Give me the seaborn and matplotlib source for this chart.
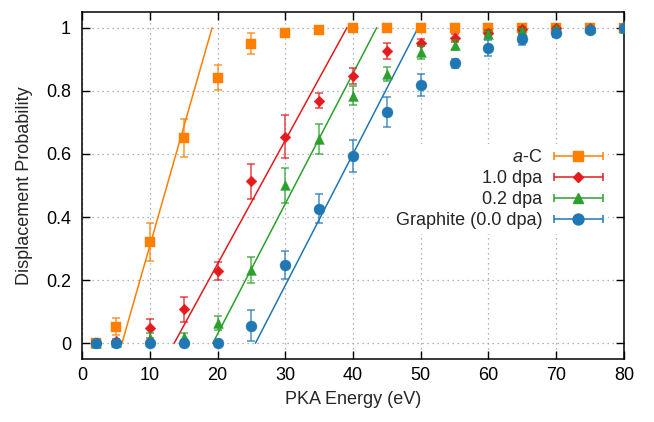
import numpy as np
import pandas as pd
import matplotlib
matplotlib.use("Agg")
import matplotlib.pyplot as plt
import seaborn as sns
from matplotlib.legend_handler import HandlerErrorbar
from matplotlib.container import ErrorbarContainer

# PKA energies (eV) at which displacement probability was sampled
energy = [2, 5, 10, 15, 20, 25, 30, 35, 40, 45, 50, 55, 60, 65, 70, 75, 80]

ac_prob = [0.0, 0.053, 0.321, 0.650, 0.842, 0.950, 0.982, 0.994, 1.0, 1.0,
           1.0, 1.0, 1.0, 1.0, 1.0, 1.0, 1.0]
ac_err = [0.004, 0.026, 0.060, 0.060, 0.039, 0.034, 0.010, 0.005, 0.0, 0.0,
          0.0, 0.0, 0.0, 0.0, 0.0, 0.0, 0.0]

dpa10_prob = [0.0, 0.006, 0.047, 0.107, 0.229, 0.513, 0.655, 0.769, 0.846,
              0.926, 0.953, 0.967, 0.984, 0.996, 1.0, 1.0, 1.0]
dpa10_err = [0.0, 0.006, 0.030, 0.040, 0.028, 0.055, 0.068, 0.024, 0.025,
             0.026, 0.012, 0.012, 0.008, 0.005, 0.003, 0.0, 0.0]

dpa02_prob = [0.0, 0.003, 0.016, 0.021, 0.063, 0.232, 0.500, 0.648, 0.785,
              0.854, 0.922, 0.946, 0.980, 0.990, 0.995, 1.0, 1.0]
dpa02_err = [0.0, 0.003, 0.015, 0.010, 0.022, 0.040, 0.055, 0.048, 0.030,
             0.022, 0.020, 0.015, 0.010, 0.007, 0.005, 0.0, 0.0]

graphite_prob = [0.0, 0.0, 0.0, 0.0, 0.0, 0.055, 0.248, 0.427, 0.593, 0.733,
                 0.819, 0.887, 0.936, 0.963, 0.982, 0.994, 1.0]
graphite_err = [0.0, 0.0, 0.0, 0.0, 0.0, 0.049, 0.045, 0.045, 0.050, 0.047,
                0.035, 0.015, 0.026, 0.017, 0.010, 0.005, 0.0]

# linear threshold fits: energy where probability is 0 and where it reaches 1
ac_fit = [5.9, 19.2]
dpa10_fit = [13.6, 39.1]
dpa02_fit = [19.3, 43.5]
graphite_fit = [25.6, 49.6]

series_labels = ["$\\it{a}$-C", "1.0 dpa", "0.2 dpa", "Graphite (0.0 dpa)"]

series = [
    (series_labels[0], ac_prob, ac_err, ac_fit, "#ff7f00", "s", 52),
    (series_labels[1], dpa10_prob, dpa10_err, dpa10_fit, "#e41a1c", "D", 30),
    (series_labels[2], dpa02_prob, dpa02_err, dpa02_fit, "#2ca02c", "^", 50),
    (series_labels[3], graphite_prob, graphite_err, graphite_fit, "#1f77b4", "o", 62),
]

sns.set_theme(style="white")
plt.rcParams["font.family"] = ["Liberation Sans", "DejaVu Sans"]
plt.rcParams["mathtext.fontset"] = "custom"
plt.rcParams["mathtext.it"] = "Liberation Sans:italic"
plt.rcParams["mathtext.rm"] = "Liberation Sans"

fig = plt.figure(figsize=(6.54, 4.22), dpi=100)
ax = fig.add_axes([0.1254, 0.1493, 0.8287, 0.8223])

handles = []
for i, (label, prob, err, fit, color, marker, size) in enumerate(series):
    df = pd.DataFrame({"energy": energy, "prob": prob, "err": err})
    fit_df = pd.DataFrame({"energy": fit, "prob": [0.0, 1.0]})
    sns.lineplot(data=fit_df, x="energy", y="prob", color=color, lw=1.1,
                 ax=ax, zorder=2 + i * 0.1, legend=False)
    ax.errorbar(df["energy"], df["prob"], yerr=df["err"], fmt="none",
                ecolor=color, elinewidth=1.1, capsize=3.2, capthick=1.1,
                alpha=0.8, zorder=3 + i * 0.1)
    sns.scatterplot(data=df, x="energy", y="prob", marker=marker, s=size,
                    color=color, edgecolor=color, linewidth=0.3, ax=ax,
                    zorder=3.05 + i * 0.1, legend=False)
    # key entry: horizontal bar with end caps and the series marker
    proxy = ax.errorbar([np.nan], [np.nan], xerr=[1.0], fmt=marker,
                        color=color, ecolor=color, elinewidth=1.1,
                        capsize=3.2, capthick=1.1,
                        markersize=np.sqrt(size), label=label)
    handles.append(proxy)

ax.set_xlim(0, 80)
ax.set_ylim(-0.05, 1.05)
ax.set_xticks(np.arange(0, 81, 10))
ax.set_yticks([0, 0.2, 0.4, 0.6, 0.8, 1.0])
ax.set_yticklabels(["0", "0.2", "0.4", "0.6", "0.8", "1"])

ax.set_axisbelow(True)
ax.grid(True, color="#9a9a9a", linestyle=(0, (1, 3)), lw=0.9)

for sp in ax.spines.values():
    sp.set_color("black")
    sp.set_linewidth(1.1)
    sp.set_visible(True)

ax.tick_params(axis="both", which="major", direction="in", length=6,
               width=1.0, colors="black", labelsize=13,
               top=True, right=True, bottom=True, left=True)
ax.tick_params(axis="x", pad=6)
ax.tick_params(axis="y", pad=8)

ax.set_xlabel("PKA Energy (eV)", fontsize=13, labelpad=5)
ax.set_ylabel("Displacement Probability", fontsize=13, labelpad=9)

leg = ax.legend(handles=handles, labels=series_labels, loc="center right",
                bbox_to_anchor=(0.988, 0.49), markerfirst=False,
                fontsize=13, frameon=True, framealpha=1.0,
                facecolor="white", edgecolor="none", fancybox=False,
                handlelength=2.75, handletextpad=0.6, labelspacing=0.22,
                borderpad=0.3, numpoints=1,
                handler_map={ErrorbarContainer: HandlerErrorbar(xerr_size=1.35)})
leg.set_zorder(10)
for t in leg.get_texts():
    t.set_ha("right")
leg._legend_box.align = "right"

fig.savefig("out.png", dpi=100)
